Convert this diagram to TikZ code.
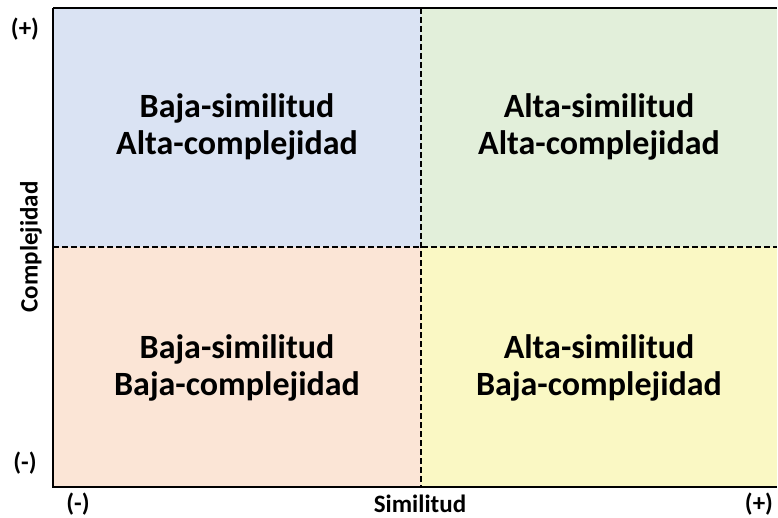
\documentclass[tikz,border=0pt]{standalone}
\usepackage{fontspec}
\setmainfont{Carlito}
\usepackage{tikz}

\definecolor{qblue}{RGB}{218,227,243}
\definecolor{qgreen}{RGB}{226,239,218}
\definecolor{qpeach}{RGB}{251,229,214}
\definecolor{qyellow}{RGB}{250,248,196}

\begin{document}
\begin{tikzpicture}[x=1pt,y=1pt,yscale=-1,xscale=1,
  quad/.style={align=center,font=\fontsize{34}{37}\selectfont\bfseries},
  axlabel/.style={inner sep=1pt,font=\fontsize{25}{27}\selectfont\bfseries},
  divider/.style={dash pattern={on 6pt off 3pt},line width=1.4pt}]
\useasboundingbox (0,0) rectangle (778,518);

%Quadrants
\fill [qblue] (53,8) rectangle (421,247);
\fill [qgreen] (421,8) rectangle (777,247);
\fill [qpeach] (53,247) rectangle (421,487);
\fill [qyellow] (421,247) rectangle (777,487);

%Corners of the frame
\coordinate (tl) at (53,8);
\coordinate (tr) at (777,8);
\coordinate (bl) at (53,487);
\coordinate (br) at (777,487);
\coordinate (midtop) at (421,8);
\coordinate (midbot) at (421,487);
\coordinate (midleft) at (53,247);
\coordinate (midright) at (777,247);

%Dividers
\draw [divider] (midtop) -- (midbot);
\draw [divider] (midleft) -- (midright);

%Frame
\draw [line width=1.6pt] (tl) -- (tr);
\draw [line width=1.6pt] (tl) -- (bl) -- (br);

% Text Node
\node [quad] (lowhigh) at (237,127) {Baja-similitud\\Alta-complejidad};
% Text Node
\node [quad] (highhigh) at (599,127) {Alta-similitud\\Alta-complejidad};
% Text Node
\node [quad] (lowlow) at (237,368) {Baja-similitud\\Baja-complejidad};
% Text Node
\node [quad] (highlow) at (599,368) {Alta-similitud\\Baja-complejidad};

% Axis labels
\node [axlabel,rotate=90] (ylabel) at (31,247) {Complejidad};
\node [axlabel] (ytop) at (25,29) {(+)};
\node [axlabel] (ybot) at (25,463) {(-)};
\node [axlabel] (xlabel) at (420,504) {Similitud};
\node [axlabel] (xleft) at (78,504) {(-)};
\node [axlabel] (xright) at (759,504) {(+)};

\end{tikzpicture}
\end{document}
